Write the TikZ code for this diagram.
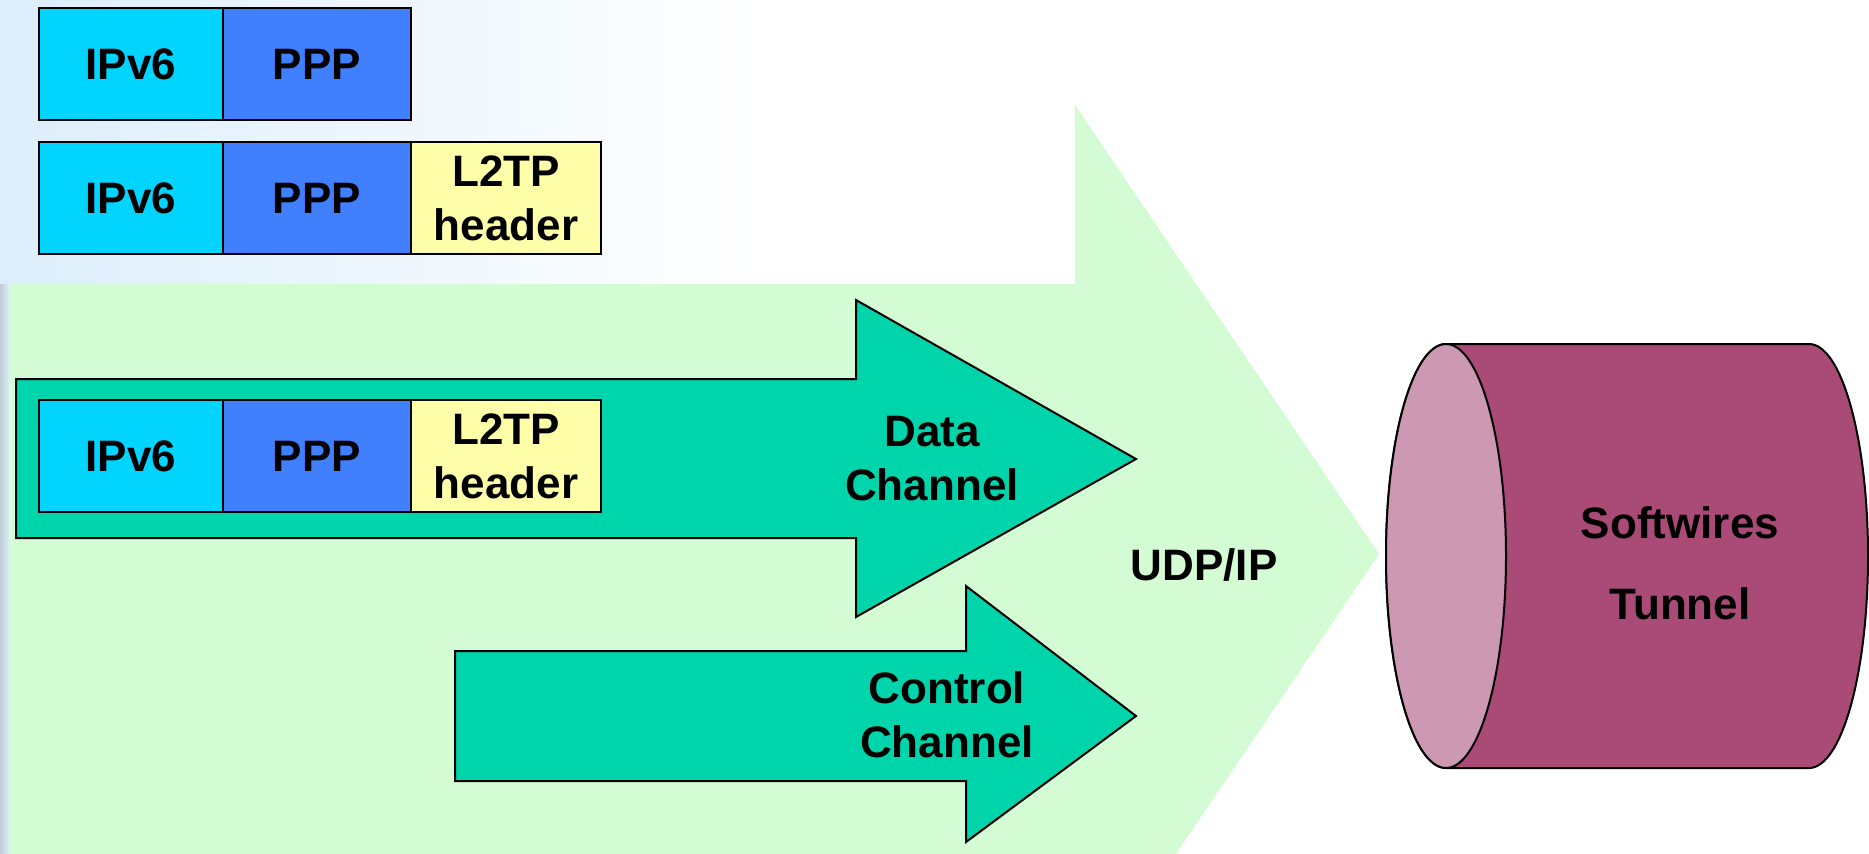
\documentclass[tikz,border=0pt]{standalone}
\usepackage{fontspec}
\setmainfont{Liberation Sans}
\usetikzlibrary{positioning}
\definecolor{ipcol}{HTML}{00D4FF}
\definecolor{pppcol}{HTML}{4080FF}
\definecolor{l2col}{HTML}{FFFFAA}
\definecolor{udpcol}{HTML}{D4FCD4}
\definecolor{chcol}{HTML}{00D4AA}
\definecolor{tubecol}{HTML}{AA4A76}
\definecolor{facecol}{HTML}{CD98B2}
\definecolor{skycol}{HTML}{DCEEFB}

\begin{document}
\begin{tikzpicture}[x=0.5pt,y=-0.5pt,node distance=0pt,font=\fontsize{22}{27}\selectfont\bfseries]
      \tikzstyle{f}=[draw,line width=1pt,outer sep=0pt,inner sep=0pt,minimum height=56pt,align=center]
      \tikzstyle{ip}=[f,fill=ipcol,minimum width=92pt]
      \tikzstyle{ppp}=[f,fill=pppcol,minimum width=94pt]
      \tikzstyle{l2}=[f,fill=l2col,minimum width=95pt]
      \tikzstyle{ch}=[draw,line width=1pt,fill=chcol]
      \useasboundingbox (0,0) rectangle (1869,853);
      \clip (0,0) rectangle (1869,853);
      % faint backdrop
      \fill[left color=skycol,right color=white] (0,0) rectangle (760,284);
      \fill[left color=skycol!70!gray,right color=skycol] (0,284) rectangle (9,853);
      % udp/ip carrier
      \fill[udpcol] (9,284) -- (1075,284) -- (1075,105) -- (1379,554)
        -- (1075,1003) -- (1075,900) -- (9,900) -- cycle;
      % channels
      \filldraw[ch] (16,379) -- (856,379) -- (856,300) -- (1136,459)
        -- (856,617) -- (856,538) -- (16,538) -- cycle;
      \filldraw[ch] (455,651) -- (966,651) -- (966,586) -- (1136,716)
        -- (966,842) -- (966,781) -- (455,781) -- cycle;
      % frames
      \node[ip,anchor=north west] (ipa) at (39,8) {IPv6};
      \node[ppp,right=of ipa] (pppa) {PPP};
      \node[ip,anchor=north west] (ipb) at (39,142) {IPv6};
      \node[ppp,right=of ipb] (pppb) {PPP};
      \node[l2,right=of pppb] (l2b) {L2TP\\header};
      \node[ip,anchor=north west] (ipc) at (39,400) {IPv6};
      \node[ppp,right=of ipc] (pppc) {PPP};
      \node[l2,right=of pppc] (l2c) {L2TP\\header};
      % tunnel
      \filldraw[fill=tubecol,line width=1pt] (1446,344) -- (1809,344)
        arc[start angle=90,end angle=-90,x radius=29.5pt,y radius=106pt]
        -- (1446,768) arc[start angle=270,end angle=90,x radius=30pt,y radius=106pt] -- cycle;
      \filldraw[fill=facecol,line width=1pt] (1446,556) ellipse [x radius=30pt,y radius=106pt];
      % labels
      \node[align=center] (data) at (932,459) {Data\\Channel};
      \node[align=center] (ctrl) at (947,715) {Control\\Channel};
      \node (udp) at (1204,565) {UDP/IP};
      \node[align=center,font=\fontsize{22}{40.5}\selectfont\bfseries] (tun) at (1680,563) {Softwires\\Tunnel};
    \end{tikzpicture}
\end{document}
